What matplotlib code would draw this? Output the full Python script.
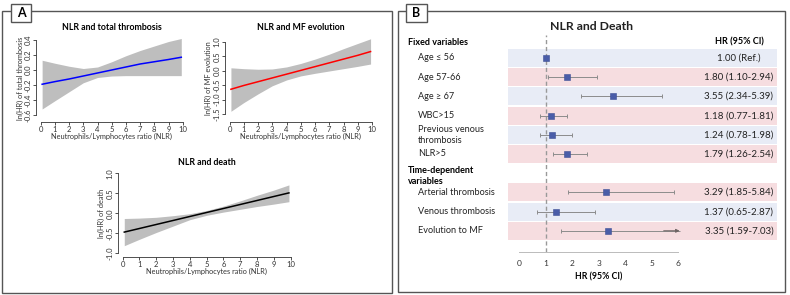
import matplotlib
matplotlib.use("Agg")
import matplotlib.pyplot as plt
from matplotlib.patches import Rectangle

plt.rcParams['font.family'] = ['Lato', 'DejaVu Sans']

# ---------------- data ----------------
nlr_x = [0.1, 1, 2, 3, 4, 5, 6, 7, 8, 9, 9.9]

thromb_fit = [-0.19, -0.155, -0.12, -0.08, -0.04, 0.0, 0.04, 0.08, 0.11, 0.14, 0.17]
thromb_hi = [0.13, 0.09, 0.05, 0.02, 0.04, 0.11, 0.19, 0.26, 0.32, 0.38, 0.42]
thromb_lo = [-0.52, -0.41, -0.29, -0.17, -0.10, -0.08, -0.075, -0.075, -0.075, -0.075, -0.075]

mf_fit = [-0.64, -0.51, -0.38, -0.25, -0.12, 0.01, 0.14, 0.27, 0.40, 0.53, 0.66]
mf_hi = [0.10, 0.07, 0.05, 0.06, 0.13, 0.25, 0.40, 0.57, 0.76, 0.94, 1.10]
mf_lo = [-1.40, -1.10, -0.80, -0.52, -0.32, -0.18, -0.09, -0.01, 0.07, 0.15, 0.23]

death_fit = [-0.47, -0.38, -0.28, -0.18, -0.08, 0.02, 0.12, 0.22, 0.32, 0.42, 0.51]
death_hi = [-0.13, -0.12, -0.10, -0.06, -0.01, 0.07, 0.18, 0.31, 0.45, 0.58, 0.71]
death_lo = [-0.81, -0.65, -0.48, -0.32, -0.16, -0.05, 0.03, 0.10, 0.17, 0.23, 0.29]

forest_labels = ["Age \u2264 56", "Age 57-66", "Age \u2265 67", "WBC>15",
                 "Previous venous\nthrombosis", "NLR>5",
                 "Arterial thrombosis", "Venous thrombosis", "Evolution to MF"]
forest_rows = [0, 1, 2, 3, 4, 5, 7, 8, 9]
forest_hr = [1.00, 1.80, 3.55, 1.18, 1.24, 1.79, 3.29, 1.37, 3.35]
forest_lo = [1.00, 1.10, 2.34, 0.77, 0.78, 1.26, 1.85, 0.65, 1.59]
forest_hi = [1.00, 2.94, 5.39, 1.81, 1.98, 2.54, 5.84, 2.87, 7.03]
forest_text = ["1.00 (Ref.)", "1.80 (1.10-2.94)", "3.55 (2.34-5.39)", "1.18 (0.77-1.81)",
               "1.24 (0.78-1.98)", "1.79 (1.26-2.54)", "3.29 (1.85-5.84)",
               "1.37 (0.65-2.87)", "3.35 (1.59-7.03)"]
band_colors = ["#E8ECF6", "#F6DDE0", "#E8ECF6", "#F6DDE0", "#E8ECF6", "#F6DDE0",
               "#F6DDE0", "#E8ECF6", "#F6DDE0"]
forest_ticks = [0, 1, 2, 3, 4, 5, 6]

# ---------------- figure ----------------
W, H = 790, 295
fig = plt.figure(figsize=(W / 100, H / 100), dpi=100)
fig.patch.set_facecolor("white")


def fx(px):
    return px / W


def fy(py):
    return 1 - py / H


def add_axes_px(l, t, r, b):
    return fig.add_axes([l / W, 1 - b / H, (r - l) / W, (b - t) / H])


# panel boxes
for (l, t, r, b) in [(2, 11, 392, 293), (398, 11, 785, 292)]:
    fig.patches.append(Rectangle((fx(l), fy(b)), (r - l) / W, (b - t) / H,
                                 transform=fig.transFigure, fill=False,
                                 edgecolor="#555555", lw=1.0))
for (l, t, r, b, lab) in [(11, 4, 31, 22, "A"), (406, 4, 427, 22, "B")]:
    fig.patches.append(Rectangle((fx(l), fy(b)), (r - l) / W, (b - t) / H,
                                 transform=fig.transFigure, facecolor="white",
                                 edgecolor="#555555", lw=1.0, zorder=5))
    fig.text(fx((l + r) / 2), fy((t + b) / 2), lab, ha="center", va="center",
             fontsize=9, fontweight="bold", zorder=6)

TXT = 5.5


def rplot(box, xmap, ymap, x, lo, hi, fit, color, yticks, title, ylabel,
          ylabel_x, ytick_fmt):
    l, t, r, b = box
    ax = add_axes_px(l, t, r, b)
    x0px, xs = xmap
    y0px, ys = ymap
    ax.set_xlim((l - x0px) / xs, (r - x0px) / xs)
    ax.set_ylim((y0px - b) / ys, (y0px - t) / ys)
    ax.fill_between(x, lo, hi, color="#BEBEBE", lw=0)
    ax.plot(x, fit, color=color, lw=1.1)
    for s in ["top", "right"]:
        ax.spines[s].set_visible(False)
    ax.spines["left"].set_bounds(yticks[0], yticks[-1])
    ax.spines["bottom"].set_bounds(0, 10)
    for s in ["left", "bottom"]:
        ax.spines[s].set_linewidth(0.6)
        ax.spines[s].set_color("#333333")
    ax.set_xticks(range(0, 11))
    ax.set_yticks(yticks)
    ax.set_yticklabels([ytick_fmt.format(v) for v in yticks], rotation=90,
                       va="center")
    ax.tick_params(axis="both", length=2, width=0.6, colors="#333333",
                   labelsize=TXT, pad=1)
    ax.set_facecolor("none")
    cx = (x0px + (x0px + 10 * xs)) / 2
    fig.text(fx(cx), fy(t - 8), title, ha="center", va="center",
             fontsize=6.3, fontweight="bold")
    fig.text(fx(cx), fy(b + 15), "Neutrophils/Lymphocytes ratio (NLR)",
             ha="center", va="center", fontsize=5.3, color="#333333")
    fig.text(fx(ylabel_x), fy((t + b) / 2), ylabel, ha="center", va="center",
             rotation=90, fontsize=5.3, color="#333333")
    return ax


rplot((35.7, 35, 187.7, 121.7), (40.7, 14.2), (70.0, 75.0), nlr_x,
      thromb_lo, thromb_hi, thromb_fit, "#0000FF",
      [-0.6, -0.4, -0.2, 0.0, 0.2, 0.4], "NLR and total thrombosis",
      "ln(HR) of total thrombosis", 20, "{:.1f}")
rplot((225, 35, 377, 121.7), (229.5, 14.25), (70.7, 29.0), nlr_x,
      mf_lo, mf_hi, mf_fit, "#FF0000",
      [-1.5, -1.0, -0.5, 0.0, 0.5, 1.0], "NLR and MF evolution",
      "ln(HR) of MF evolution", 208, "{:.1f}")
rplot((118, 171, 295.2, 256.7), (122.6, 16.8), (213.3, 40.0), nlr_x,
      death_lo, death_hi, death_fit, "#000000",
      [-1.0, -0.5, 0.0, 0.5, 1.0], "NLR and death",
      "ln(HR) of death", 101.7, "{:.1f}")

# ---------------- forest plot ----------------
FL, FR, FT, FB = 508.3, 776.7, 35.0, 251.7
X0PX, XS = 519.3, 26.5
ROW0PX, RS = 58.0, 19.2
axf = add_axes_px(FL, FT, FR, FB)
axf.set_xlim((FL - X0PX) / XS, (FR - X0PX) / XS)
axf.set_ylim((FB - ROW0PX) / RS, (FT - ROW0PX) / RS)
axf.set_facecolor("none")


def rx(px):
    return (px - X0PX) / XS


def ry(py):
    return (py - ROW0PX) / RS


for row, c in zip(forest_rows, band_colors):
    axf.axhspan(row - 0.47, row + 0.47, color=c, lw=0, zorder=0)

axf.axvline(1, color="#999999", lw=1.0, ls=(0, (3, 2)), zorder=1)

XMAX = forest_ticks[-1]
for row, hr, lo, hi in zip(forest_rows, forest_hr, forest_lo, forest_hi):
    if hi > lo:
        end = min(hi, XMAX + 0.05)
        axf.hlines(row, lo, end, color="#8C8C8C", lw=0.7, zorder=2)
        axf.plot([lo], [row], marker="|", ms=3, mew=0.7, color="#8C8C8C", zorder=2)
        if hi > XMAX:
            axf.annotate("", xy=(end, row), xytext=(end - 0.6, row),
                         arrowprops=dict(arrowstyle="-|>", color="#6E6464",
                                         lw=0.8, mutation_scale=5,
                                         shrinkA=0, shrinkB=0), zorder=3)
        else:
            axf.plot([hi], [row], marker="|", ms=3, mew=0.7, color="#8C8C8C",
                     zorder=2)
    axf.plot([hr], [row], marker="s", ms=3.8, color="#4A5DA8",
             mec="#3E4F96", mew=0.4, zorder=4)

for s in ["top", "right", "left"]:
    axf.spines[s].set_visible(False)
axf.spines["bottom"].set_bounds(forest_ticks[0], forest_ticks[-1])
axf.spines["bottom"].set_color("#BBBBBB")
axf.spines["bottom"].set_linewidth(0.7)
axf.set_yticks([])
axf.set_xticks(forest_ticks)
axf.tick_params(axis="x", length=0, pad=6, labelsize=6, colors="#333333")
axf.text((forest_ticks[0] + forest_ticks[-1]) / 2, ry(277.3), "HR (95% CI)",
         ha="center", va="center", fontsize=6.3, fontweight="bold",
         clip_on=False)

LBLX = rx(418.3)
VALX = rx(739)
for row, lab, txt in zip(forest_rows, forest_labels, forest_text):
    axf.text(LBLX, row, lab, ha="left", va="center", fontsize=6.6,
             color="#222222", linespacing=1.3, clip_on=False)
    axf.text(VALX, row, txt, ha="center", va="center", fontsize=7,
             color="#222222")

axf.text(rx(407.7), ry(42.3), "Fixed variables", ha="left", va="center",
         fontsize=6.5, fontweight="bold", clip_on=False)
axf.text(rx(407.7), ry(175.8), "Time-dependent\nvariables", ha="left",
         va="center", fontsize=6.5, fontweight="bold", linespacing=1.35,
         clip_on=False)
axf.text(VALX, ry(42.3), "HR (95% CI)", ha="center", va="center",
         fontsize=6.5, fontweight="bold")
fig.text(fx(592), fy(27), "NLR and Death", ha="center", va="center",
         fontsize=8.8, fontweight="bold", color="#222222")

fig.savefig("out.png", dpi=100, facecolor="white")
